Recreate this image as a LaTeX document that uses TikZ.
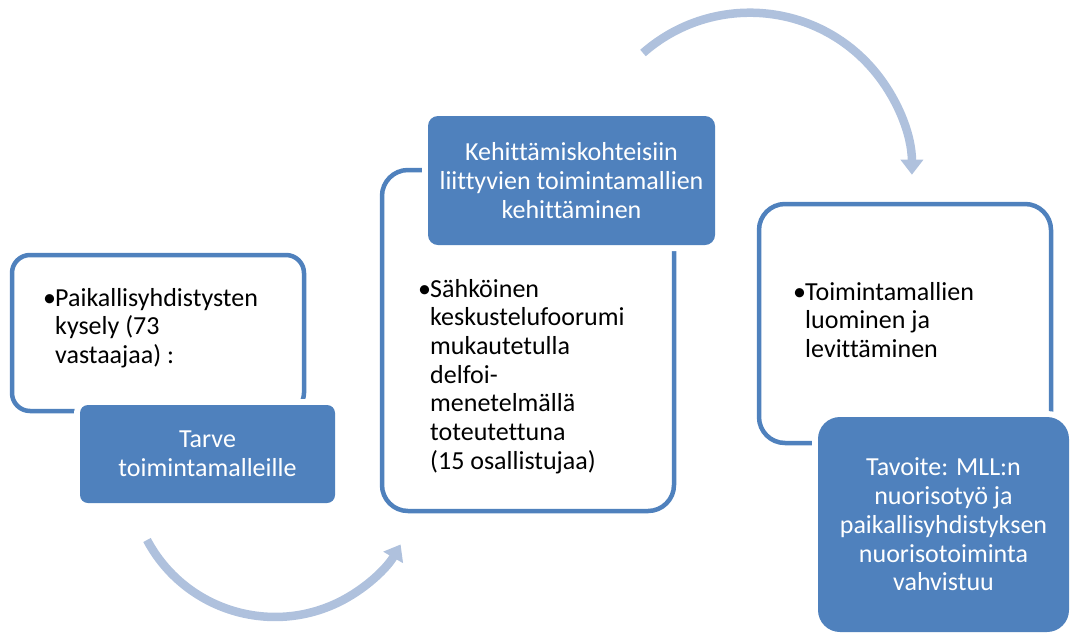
\documentclass[tikz,border=0pt]{standalone}
\usepackage{fontspec}
\setmainfont[Ligatures={NoCommon}]{Carlito}
\usetikzlibrary{arrows.meta}
\definecolor{accent}{HTML}{4F81BD}
\definecolor{arrowc}{HTML}{AFC1DD}
\newcommand{\bulpar}[1]{\parbox[t]{260pt}{\hangindent=12pt\hangafter=1\makebox[12pt][l]{•}#1}}
\begin{document}
\begin{tikzpicture}[x=1pt,y=-1pt,
  font=\fontsize{26pt}{28.7pt}\selectfont,
  outl/.style={draw=accent, line width=4.5pt, fill=white, inner sep=0pt},
  bluebox/.style={fill=accent, text=white, align=center, inner sep=0pt,
                  preaction={draw=white, line width=12pt}},
  bodytext/.style={inner sep=0pt, anchor=base west, text=black},
  bigarrow/.style={draw=arrowc, line width=8.5pt, -{Triangle[width=22pt,length=15pt]}}]
\useasboundingbox (0,0) rectangle (1070,633);
% outline boxes
\node[outl, rounded corners=18pt, minimum width=292pt, minimum height=156pt] (o1) at (158,333) {};
\node[outl, rounded corners=26pt, minimum width=292pt, minimum height=341pt] (o2) at (528,340.5) {};
\node[outl, rounded corners=26pt, minimum width=292pt, minimum height=239pt] (o3) at (905,323.5) {};
% blue boxes
\node[bluebox, rounded corners=8pt, minimum width=255pt, minimum height=98pt] (b1) at (207.5,454) {Tarve\\toimintamalleille};
\node[bluebox, rounded corners=10pt, minimum width=287pt, minimum height=129pt] (b2) at (571.5,180.5) {Kehittämiskohteisiin\\liittyvien toimintamallien\\kehittäminen};
\node[bluebox, rounded corners=22pt, minimum width=251pt, minimum height=215pt] (b3) at (943.5,524.5) {Tavoite: MLL:n\\nuorisotyö ja\\paikallisyhdistyksen\\nuorisotoiminta\\vahvistuu};
% body texts
\node[bodytext] (t1) at (43,306) {\bulpar{Paikallisyhdistysten\\kysely (73\\vastaajaa) :}};
\node[bodytext] (t2) at (418,297) {\bulpar{Sähköinen\\keskustelufoorumi\\mukautetulla\\delfoi-\\menetelmällä\\toteutettuna\\(15 osallistujaa)}};
\node[bodytext] (t3) at (793,300) {\bulpar{Toimintamallien\\luominen ja\\levittäminen}};
% arrows
\coordinate (a1s) at (147,540);
\coordinate (a2s) at (643,53);
\draw[bigarrow] (a1s) arc[start angle=152, end angle=30, radius=145];
\draw[bigarrow] (a2s) arc[start angle=228.7, end angle=360, radius=162];
\end{tikzpicture}
\end{document}
